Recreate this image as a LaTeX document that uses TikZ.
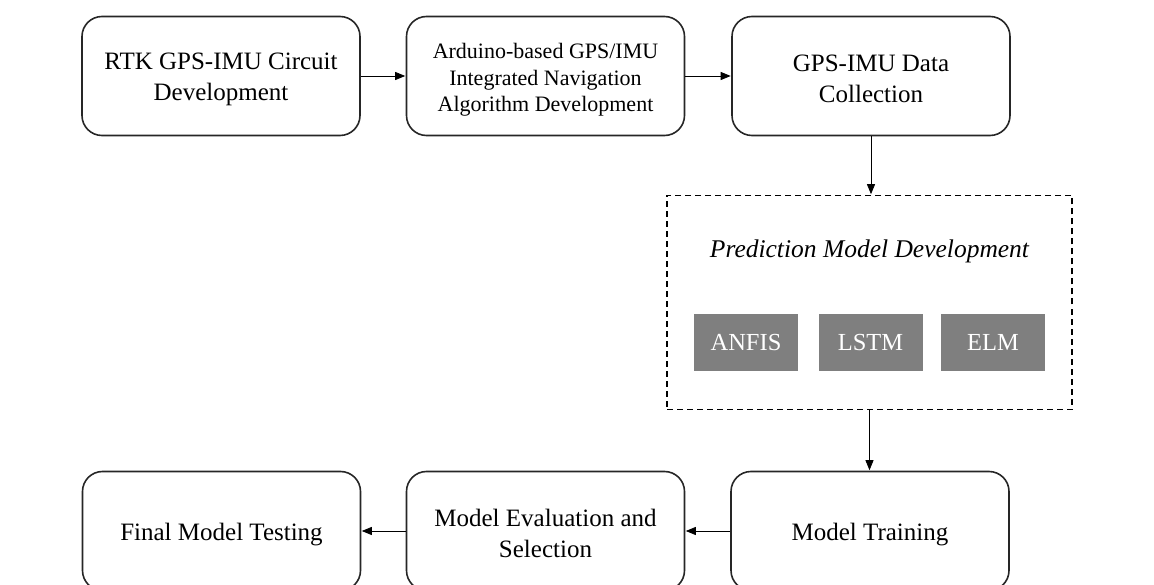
\documentclass[tikz,border=0pt]{standalone}
\usepackage{fontspec}
\setmainfont{Liberation Serif}
\usetikzlibrary{arrows.meta}

\definecolor{modelgray}{HTML}{7F7F7F}
\definecolor{linegray}{HTML}{262626}

\tikzset{
  stage/.style={draw=linegray, line width=1.6pt, rounded corners=20pt,
    minimum width=278pt, minimum height=119pt, inner sep=0pt},
  stagetext/.style={align=center, inner sep=0pt,
    font=\fontsize{25}{31}\selectfont},
  stagetextsmall/.style={stagetext, font=\fontsize{22}{26.5}\selectfont},
  group/.style={draw=black, line width=1.6pt, dash pattern=on 6pt off 4pt,
    minimum width=405pt, minimum height=214pt, inner sep=0pt},
  model/.style={fill=modelgray, text=white, minimum width=104pt,
    minimum height=57pt, inner sep=0pt, font=\fontsize{24.5}{28}\selectfont},
  flow/.style={draw=black, line width=0.8pt,
    -{Triangle[length=10pt, width=8pt]}, shorten >=0.5pt}
}

\begin{document}
\begin{tikzpicture}[x=1pt, y=-1pt]
  \useasboundingbox (0,0) rectangle (1154,585);
  \clip (0,0) rectangle (1154,585);

  % top row
  \node[stage] (circuit) at (221,76) {};
  \node[stagetext] (circuit-t) at ([yshift=-3.5pt]circuit.center) {RTK GPS-IMU Circuit\\Development};
  \node[stage] (algo) at (545.5,76) {};
  \node[stagetextsmall] (algo-t) at ([yshift=-4pt]algo.center) {Arduino-based GPS/IMU\\Integrated Navigation\\Algorithm Development};
  \node[stage] (collect) at (871,76) {};
  \node[stagetext] (collect-t) at ([yshift=-2.5pt]collect.center) {GPS-IMU Data\\Collection};

  % prediction model group
  \node[group] (predict) at (869.5,302.5) {};
  \node[font=\fontsize{25.5}{30}\selectfont\itshape, inner sep=0pt] (ptitle) at (869.5,251.5) {Prediction Model Development};
  \node[model] (anfis) at (746,342.5) {ANFIS};
  \node[model] (lstm) at (870.5,342.5) {LSTM};
  \node[model] (elm) at (993,342.5) {ELM};

  % bottom row
  \node[stage] (final) at (221.5,531) {};
  \node[stagetext] (final-t) at ([yshift=-3.5pt]final.center) {Final Model Testing};
  \node[stage] (evalsel) at (545.5,531) {};
  \node[stagetext] (evalsel-t) at ([yshift=-2.5pt]evalsel.center) {Model Evaluation and\\Selection};
  \node[stage] (train) at (870,531) {};
  \node[stagetext] (train-t) at ([yshift=-3.5pt]train.center) {Model Training};

  % connectors
  \draw[flow] (circuit.east) -- (algo.west);
  \draw[flow] (algo.east) -- (collect.west);
  \draw[flow] (collect.south) -- (collect.south |- predict.north);
  \draw[flow] (predict.south) -- (predict.south |- train.north);
  \draw[flow] (train.west) -- (evalsel.east);
  \draw[flow] (evalsel.west) -- (final.east);
\end{tikzpicture}
\end{document}
